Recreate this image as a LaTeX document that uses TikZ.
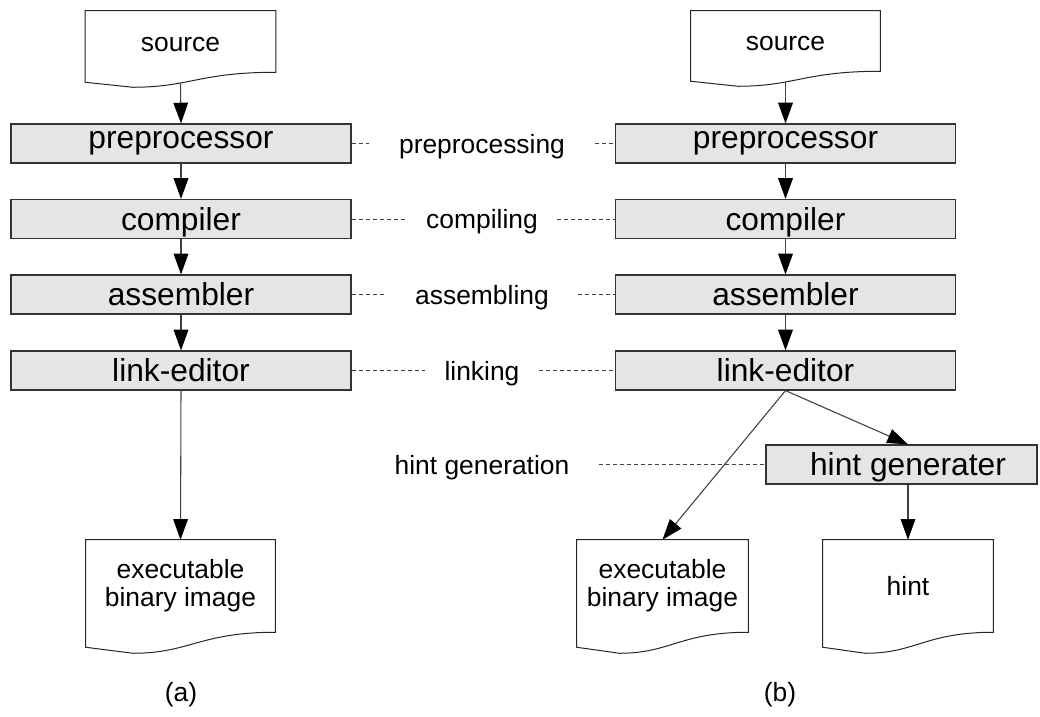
\documentclass[tikz,border=0pt]{standalone}
\usepackage{fontspec}
\setmainfont{Liberation Sans}
\usetikzlibrary{arrows.meta,calc}

% outline of a flowchart "document": #1 node, #2 width, #3 drop of the left corner, #4 depth of the wave
\newcommand\docoutline[4]{%
  \draw[docline] (#1.north west) -- (#1.north east) -- (#1.south east)
    .. controls ($(#1.south east)+(-0.4*#2,0)$) and ($(#1.south west)+(0.55*#2,#4)$)
    .. ($(#1.south west)+(0.25*#2,#4)$) -- ($(#1.south west)+(0,#3)$) -- cycle;}

\tikzset{
  procbox/.style={draw=black!80, line width=0.9pt, fill=black!10,
    minimum width=255pt, minimum height=29.25pt, inner sep=0pt,
    font=\fontsize{23.8}{26}\selectfont},
  docnode/.style={inner sep=0pt, align=center,
    font=\fontsize{19.8}{21}\selectfont},
  docline/.style={draw=black!85, line width=0.75pt},
  stagelabel/.style={inner sep=0pt, font=\fontsize{19.8}{21}\selectfont},
  flow/.style={draw=black!75, line width=0.8pt,
    -{Triangle[length=15.5pt,width=11pt,color=black]}},
  stage/.style={draw=black!75, line width=0.75pt, dash pattern=on 3pt off 2.25pt},
}

\begin{document}
\begin{tikzpicture}[x=0.75pt, y=-0.75pt]
\useasboundingbox (0,0) rectangle (1040,717);

% ---- left tool chain (a)
\node[docnode, minimum width=142.5pt, minimum height=45.75pt, text height=15pt] (srcL) at (180.5,41.5) {source};
\docoutline{srcL}{190}{10}{15}
\node[procbox] (preL) at (181,143.5) {preprocessor};
\node[procbox, text depth=0pt] (comL) at (181,219) {compiler};
\node[procbox] (asmL) at (181,294.5) {assembler};
\node[procbox] (lnkL) at (181,370.5) {link-editor};
\node[docnode, minimum width=141.75pt, minimum height=69pt] (exeL) at (180.5,586) {executable\\binary image};
\docoutline{exeL}{189}{15}{21}

\draw[flow] ($(srcL.south)+(0,11)$) -- (preL.north);
\draw[flow] (preL.south) -- (comL.north);
\draw[flow] (comL.south) -- (asmL.north);
\draw[flow] (asmL.south) -- (lnkL.north);
\draw[flow] (lnkL.south) -- (exeL.north);

% ---- right tool chain (b)
\node[docnode, minimum width=141.75pt, minimum height=45pt, text height=15pt] (srcR) at (785.5,41) {source};
\docoutline{srcR}{189}{10}{15}
\node[procbox] (preR) at (785.5,143.5) {preprocessor};
\node[procbox, text depth=0pt] (comR) at (785.5,219) {compiler};
\node[procbox] (asmR) at (785.5,294.5) {assembler};
\node[procbox] (lnkR) at (785.5,370.5) {link-editor};
\node[procbox, minimum width=203.25pt, text depth=1.3pt] (hgen) at (901.5,464.5) {\hspace*{9.75pt}hint generater};
\node[docnode, minimum width=128.25pt, minimum height=69pt] (exeR) at (662.5,586) {executable\\binary image};
\docoutline{exeR}{171}{15}{21}
\node[docnode, minimum width=127.5pt, minimum height=69pt] (hint) at (908,586) {hint};
\docoutline{hint}{170}{15}{21}

\draw[flow] ($(srcR.south)+(0,11)$) -- (preR.north);
\draw[flow] (preR.south) -- (comR.north);
\draw[flow] (comR.south) -- (asmR.north);
\draw[flow] (asmR.south) -- (lnkR.north);
\draw[flow] (lnkR.south) -- (exeR.north);
\draw[flow] (lnkR.south) -- (hgen.north -| hint.north);
\draw[flow] (hgen.south -| hint.north) -- (hint.north);

% ---- phase names between the chains
\node[stagelabel] (lpre) at (482,146.5) {preprocessing};
\node[stagelabel] (lcom) at (482,222) {compiling};
\node[stagelabel] (lasm) at (482,297.5) {assembling};
\node[stagelabel] (llnk) at (482,373.5) {linking};
\node[stagelabel] (lhnt) at (482,467.5) {hint generation};

\draw[stage, shorten >=22.5pt] (preL.east) -- (preL.east -| lpre.west);
\draw[stage, shorten <=22.5pt] (preR.west -| lpre.east) -- (preR.west);
\draw[stage, shorten >=14.5pt] (comL.east) -- (comL.east -| lcom.west);
\draw[stage, shorten <=14.5pt] (comR.west -| lcom.east) -- (comR.west);
\draw[stage, shorten >=21.75pt] (asmL.east) -- (asmL.east -| lasm.west);
\draw[stage, shorten <=21.75pt] (asmR.west -| lasm.east) -- (asmR.west);
\draw[stage, shorten >=14.5pt] (lnkL.east) -- (lnkL.east -| llnk.west);
\draw[stage, shorten <=14.5pt] (lnkR.west -| llnk.east) -- (lnkR.west);
\draw[stage, shorten <=21.75pt] (hgen.west -| lhnt.east) -- (hgen.west);

% ---- captions
\node[stagelabel] (capa) at (181,695) {(a)};
\node[stagelabel] (capb) at (780,695) {(b)};
\end{tikzpicture}
\end{document}
